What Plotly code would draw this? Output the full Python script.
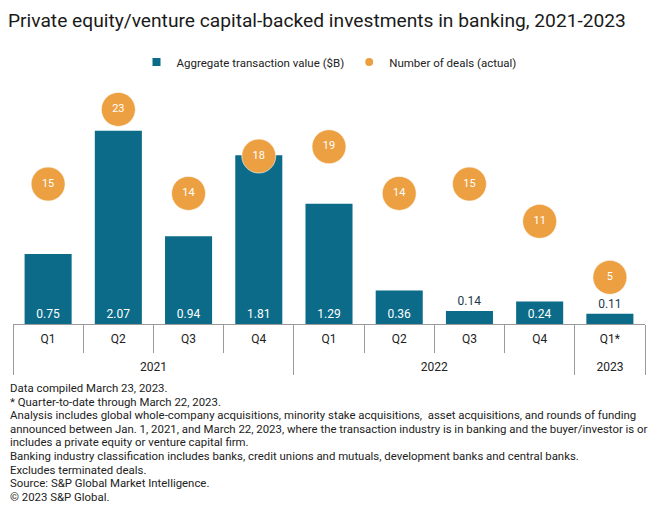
import plotly.graph_objects as go

years = ["2021", "2021", "2021", "2021", "2022", "2022", "2022", "2022", "2023"]
quarters = ["Q1", "Q2", "Q3", "Q4", "Q1", "Q2", "Q3", "Q4", "Q1*"]
values = [0.75, 2.07, 0.94, 1.81, 1.29, 0.36, 0.14, 0.24, 0.11]
deals = [15, 23, 14, 18, 19, 14, 15, 11, 5]

title = "Private equity/venture capital-backed investments in banking, 2021-2023"
notes = [
    "Data compiled March 23, 2023.",
    "* Quarter-to-date through March 22, 2023.",
    "Analysis includes global whole-company acquisitions, minority stake acquisitions,  asset acquisitions, and rounds of funding",
    "announced between Jan. 1, 2021, and March 22, 2023, where the transaction industry is in banking and the buyer/investor is or",
    "includes a private equity or venture capital firm.",
    "Banking industry classification includes banks, credit unions and mutuals, development banks and central banks.",
    "Excludes terminated deals.",
    "Source: S&P Global Market Intelligence.",
    "\u00a9 2023 S&P Global.",
]

BAR = "#0B6B88"
ORANGE = "#ECA041"
FONT = "Roboto"
AXIS = "#9a9a9a"

W, H = 652, 506          # page body has an 8px margin
L, R, T, B = 5, 15, 82, 190
PH = H - T - B

# quarter labels padded with an empty second line so the year row sits lower
quarter_keys = [q + "<br>\u00a0" for q in quarters]
x = [years, quarter_keys]
positions = ["outside" if v < 0.2 else "inside" for v in values]

fig = go.Figure()
fig.add_trace(go.Bar(
    x=x, y=values, name="Aggregate transaction value ($B)", showlegend=False,
    marker=dict(color=BAR, line=dict(width=0)),
    text=[f"{v:.2f}" for v in values], textposition=positions,
    insidetextanchor="start",
    insidetextfont=dict(color="white", size=12, family=FONT),
    outsidetextfont=dict(color="#1d3a4c", size=12, family=FONT),
    cliponaxis=False,
))
fig.add_trace(go.Scatter(
    x=x, y=deals, yaxis="y2", name="Number of deals (actual)", showlegend=False,
    mode="markers+text",
    marker=dict(color=ORANGE, size=34, line=dict(width=1, color="rgba(255,255,255,0.6)")),
    text=[str(d) for d in deals], textposition="middle center",
    textfont=dict(color="white", size=11, family=FONT),
    cliponaxis=False,
))
# legend entries
fig.add_trace(go.Scatter(x=[None], y=[None], mode="markers", name="Aggregate transaction value ($B)",
                         marker=dict(symbol="square", size=8, color=BAR)))
fig.add_trace(go.Scatter(x=[None], y=[None], mode="markers", name="Number of deals (actual)",
                         marker=dict(symbol="circle", size=8, color=ORANGE)))

ann = []
for i, line in enumerate(notes):
    fy = 380 + 13.6 * i
    ann.append(dict(text=line, xref="paper", yref="paper", x=-L/(W-L-R), xanchor="left",
                    y=(H - B - fy)/PH, yanchor="middle", align="left", showarrow=False,
                    font=dict(size=11.4, color="#222222", family=FONT)))

fig.update_layout(
    width=W, height=H,
    margin=dict(l=L, r=R, t=T, b=B, autoexpand=False),
    paper_bgcolor="white", plot_bgcolor="white",
    font=dict(family=FONT, color="#222222"),
    bargap=0.33,
    showlegend=True,
    legend=dict(orientation="h", x=0.5, xanchor="center", y=(H - B - 54)/PH, yanchor="middle",
                font=dict(size=11.5, color="#222222"), itemsizing="trace",
                bgcolor="rgba(0,0,0,0)"),
    title=dict(text=title, x=0, xanchor="left", xref="container",
               y=1 - 12/H, yanchor="middle", yref="container",
               font=dict(size=19.2, color="#1a1a1a", family=FONT)),
    xaxis=dict(type="multicategory", range=[-0.5, 8.5], showline=True, linecolor=AXIS, linewidth=1,
               ticks="outside", tickson="boundaries", ticklen=28, tickcolor=AXIS,
               ticklabelstandoff=4,
               showdividers=True, dividercolor=AXIS, dividerwidth=1,
               tickfont=dict(size=12, color="#222222"), showgrid=False, automargin=False),
    yaxis=dict(range=[0, PH/93.3], visible=False, showgrid=False, fixedrange=True),
    yaxis2=dict(range=[0, PH/9.33], overlaying="y", visible=False, showgrid=False),
    annotations=ann,
)

fig.write_html("out.html")
